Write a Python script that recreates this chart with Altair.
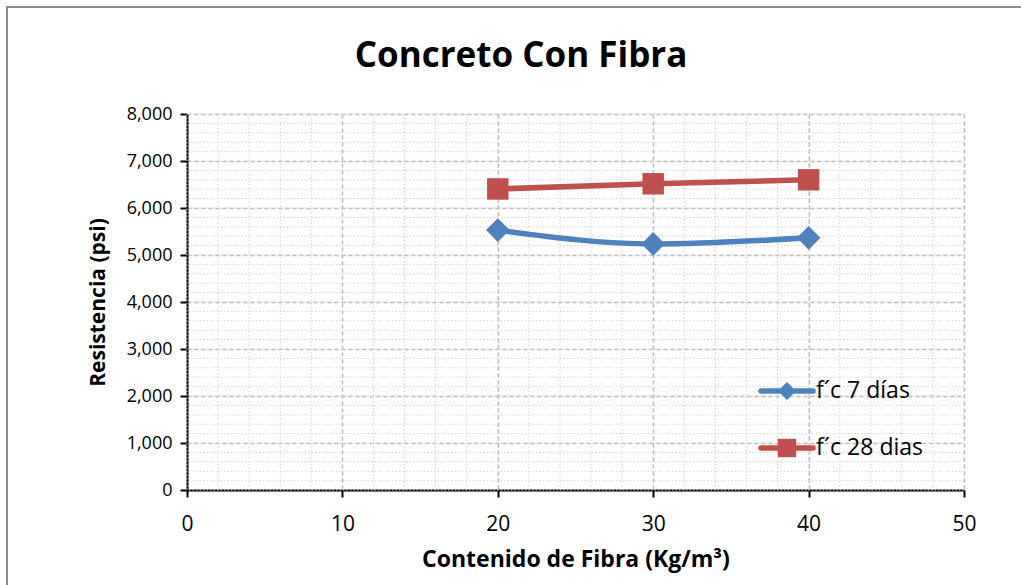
import altair as alt
import pandas as pd

# Data
fibra = [20, 30, 40]
fc7 = [5530, 5235, 5365]
fc28 = [6405, 6515, 6600]
series_names = ["f´c 7 días", "f´c 28 dias"]
colors = ["#4F81BD", "#C0504D"]

x_major = [0, 10, 20, 30, 40, 50]
y_major = [0, 1000, 2000, 3000, 4000, 5000, 6000, 7000, 8000]
x_minor = [0, 2, 4, 6, 8, 10, 12, 14, 16, 18, 20, 22, 24, 26, 28, 30, 32, 34, 36, 38, 40, 42, 44, 46, 48, 50]
y_minor = list(range(0, 8001, 200))
chart_title = "Concreto Con Fibra"

df = pd.DataFrame({
    "fibra": fibra * 2,
    "res": fc7 + fc28,
    "serie": [series_names[0]] * 3 + [series_names[1]] * 3,
})

FONT = "Open Sans"
xscale = alt.Scale(domain=[0, 50], nice=False)
yscale = alt.Scale(domain=[0, 8000], nice=False)
xaxis = alt.Axis(values=x_major, grid=True, labelFontSize=21, labelFlush=False,
                 labelPadding=16, titlePadding=14, titleFontSize=23)
yaxis = alt.Axis(values=y_major, format=",.0f", grid=True, labelFlush=False,
                 labelFontSize=18, labelPadding=8, titlePadding=18, titleFontSize=21)
xtitle = "Contenido de Fibra (Kg/m³)"
ytitle = "Resistencia (psi)"

minor_x = alt.Chart(pd.DataFrame({"v": x_minor})).mark_rule(
    color="#d4d4d4", strokeWidth=1, strokeDash=[1.5, 2]
).encode(x=alt.X("v:Q", scale=xscale, axis=xaxis, title=xtitle))

minor_y = alt.Chart(pd.DataFrame({"v": y_minor})).mark_rule(
    color="#d4d4d4", strokeWidth=1, strokeDash=[1.5, 2]
).encode(y=alt.Y("v:Q", scale=yscale, axis=yaxis, title=ytitle))

base = alt.Chart(df).encode(
    x=alt.X("fibra:Q", scale=xscale, title=xtitle, axis=xaxis),
    y=alt.Y("res:Q", scale=yscale, title=ytitle, axis=yaxis),
)

color_enc = alt.Color("serie:N", scale=alt.Scale(domain=series_names, range=colors), legend=None)

lines = base.mark_line(strokeWidth=5.5, interpolate="monotone").encode(color=color_enc)

diamonds = base.transform_filter(alt.datum.serie == series_names[0]).mark_point(
    shape="diamond", filled=True, size=560, opacity=1
).encode(color=color_enc)

squares = base.transform_filter(alt.datum.serie == series_names[1]).mark_point(
    shape="square", filled=True, size=460, opacity=1
).encode(color=color_enc)

# Hand-built legend (line + marker + label), placed inside the plot area
one = pd.DataFrame({"a": [0]})
legend_rows = [(277, series_names[0], colors[0], "diamond", 320),
               (334, series_names[1], colors[1], "square", 340)]
legend_layers = []
for ly, name, col, shp, sz in legend_rows:
    legend_layers.append(alt.Chart(one).mark_rule(color=col, strokeWidth=5.5, strokeCap="round").encode(
        x=alt.value(574), x2=alt.value(626), y=alt.value(ly)))
    legend_layers.append(alt.Chart(one).mark_point(shape=shp, filled=True, opacity=1, color=col, size=sz).encode(
        x=alt.value(600), y=alt.value(ly)))
    legend_layers.append(alt.Chart(pd.DataFrame({"t": [name]})).mark_text(
        font=FONT, fontSize=23, color="#000000", align="left", baseline="middle").encode(
        text="t:N", x=alt.value(629), y=alt.value(ly)))

frame_left = alt.Chart(one).mark_rule(color="#8c8c8c", strokeWidth=2).encode(
    x=alt.value(-180), y=alt.value(-107), y2=alt.value(480))
frame_top = alt.Chart(one).mark_rule(color="#8c8c8c", strokeWidth=2).encode(
    x=alt.value(-181), x2=alt.value(840), y=alt.value(-107))
title_mark = alt.Chart(pd.DataFrame({"t": [chart_title]})).mark_text(
    font=FONT, fontSize=35, fontWeight="bold", color="#000000",
    align="center", baseline="alphabetic"
).encode(text="t:N", x=alt.value(334), y=alt.value(-47))

chart = alt.layer(
    minor_x, minor_y, lines, diamonds, squares, *legend_layers, frame_left, frame_top, title_mark
).properties(
    width=777, height=376,
    autosize=alt.AutoSizeParams(type="none"),
    padding={"left": 187, "top": 114, "right": 57, "bottom": 95},
    background="white",
).configure_view(stroke=None).configure_axis(
    labelFont=FONT, titleFont=FONT, labelColor="#000000", titleColor="#000000",
    titleFontWeight="bold", domainColor="#000000", domainWidth=2,
    tickColor="#000000", tickWidth=2, tickSize=7,
    gridColor="#b8b8b8", gridDash=[4, 3], gridWidth=1.5,
)

chart.save("out.html", embed_options={"renderer": "svg", "actions": False})
